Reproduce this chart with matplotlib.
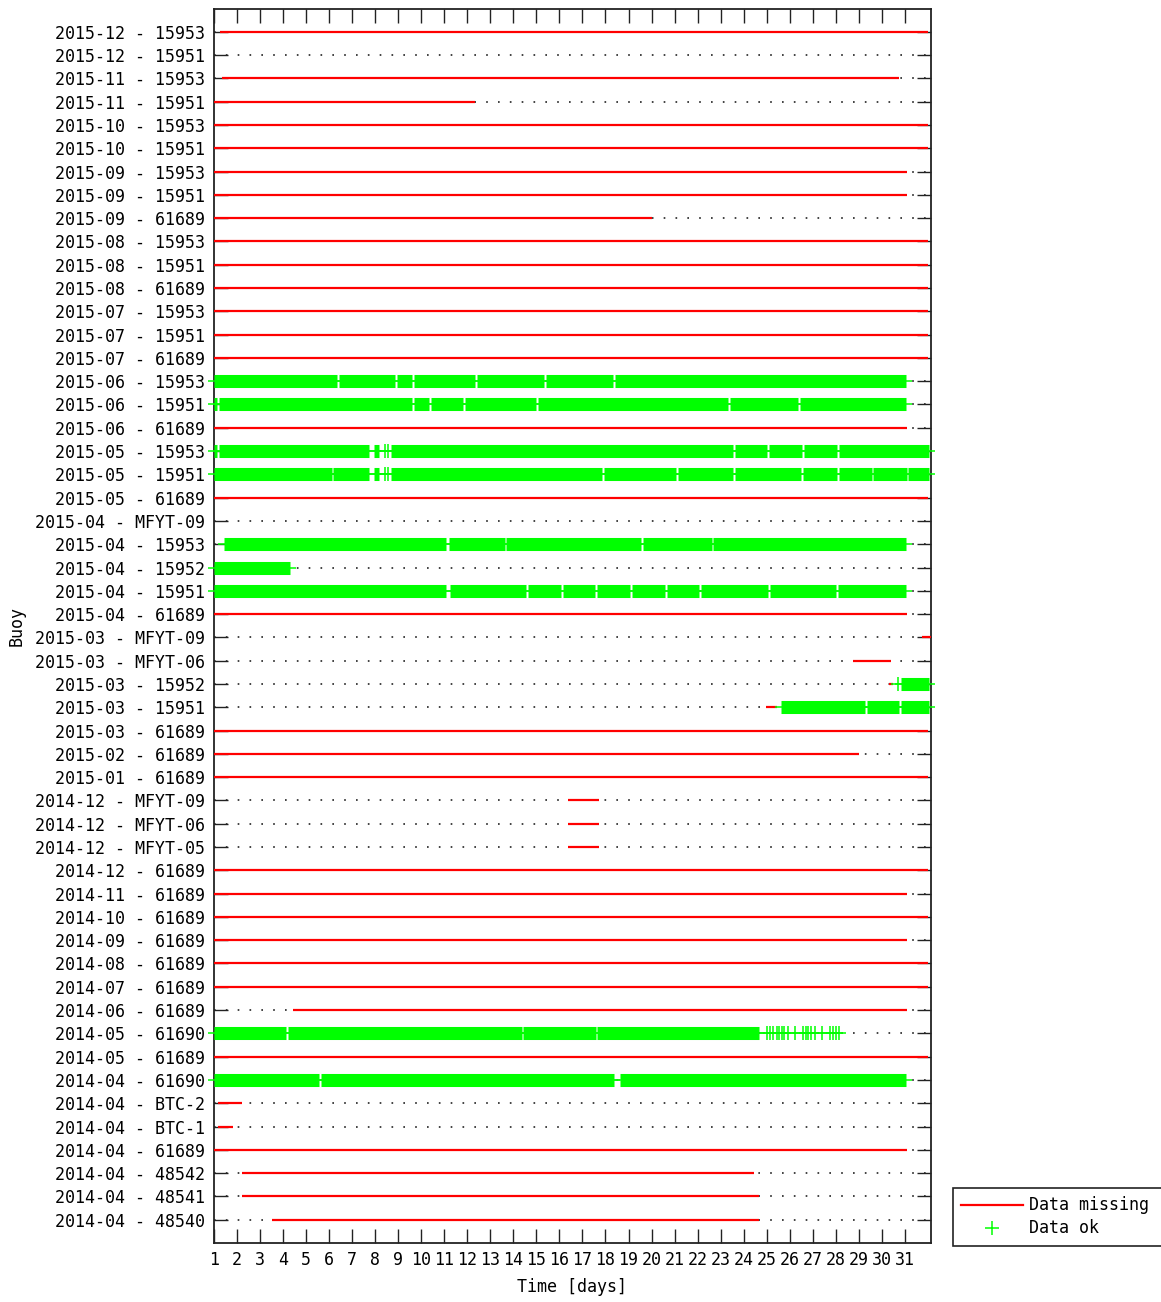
import matplotlib
matplotlib.use("Agg")
import matplotlib.pyplot as plt
from matplotlib.lines import Line2D

plt.rcParams['font.family'] = ['DejaVu Sans Mono', 'DejaVu Sans']
plt.rcParams['font.size'] = 12

# ---------------- data ----------------
buoys = [
    "2015-12 - 15953", "2015-12 - 15951", "2015-11 - 15953", "2015-11 - 15951",
    "2015-10 - 15953", "2015-10 - 15951", "2015-09 - 15953", "2015-09 - 15951",
    "2015-09 - 61689", "2015-08 - 15953", "2015-08 - 15951", "2015-08 - 61689",
    "2015-07 - 15953", "2015-07 - 15951", "2015-07 - 61689", "2015-06 - 15953",
    "2015-06 - 15951", "2015-06 - 61689", "2015-05 - 15953", "2015-05 - 15951",
    "2015-05 - 61689", "2015-04 - MFYT-09", "2015-04 - 15953", "2015-04 - 15952",
    "2015-04 - 15951", "2015-04 - 61689", "2015-03 - MFYT-09", "2015-03 - MFYT-06",
    "2015-03 - 15952", "2015-03 - 15951", "2015-03 - 61689", "2015-02 - 61689",
    "2015-01 - 61689", "2014-12 - MFYT-09", "2014-12 - MFYT-06", "2014-12 - MFYT-05",
    "2014-12 - 61689", "2014-11 - 61689", "2014-10 - 61689", "2014-09 - 61689",
    "2014-08 - 61689", "2014-07 - 61689", "2014-06 - 61689", "2014-05 - 61690",
    "2014-05 - 61689", "2014-04 - 61690", "2014-04 - BTC-2", "2014-04 - BTC-1",
    "2014-04 - 61689", "2014-04 - 48542", "2014-04 - 48541", "2014-04 - 48540",
]

# "Data missing" intervals (day of month)
missing = {
    "2015-12 - 15953": [(1.28, 32.0)],
    "2015-11 - 15953": [(1.35, 30.74)],
    "2015-11 - 15951": [(1.0, 12.34)],
    "2015-10 - 15953": [(1.0, 32.0)],
    "2015-10 - 15951": [(1.0, 32.0)],
    "2015-09 - 15953": [(1.0, 31.08)],
    "2015-09 - 15951": [(1.0, 31.08)],
    "2015-09 - 61689": [(1.0, 20.0)],
    "2015-08 - 15953": [(1.0, 32.0)],
    "2015-08 - 15951": [(1.0, 32.0)],
    "2015-08 - 61689": [(1.0, 32.0)],
    "2015-07 - 15953": [(1.0, 32.0)],
    "2015-07 - 15951": [(1.0, 32.0)],
    "2015-07 - 61689": [(1.0, 32.0)],
    "2015-06 - 61689": [(1.0, 31.08)],
    "2015-05 - 61689": [(1.0, 32.0)],
    "2015-04 - 61689": [(1.0, 31.08)],
    "2015-03 - MFYT-09": [(31.75, 32.1)],
    "2015-03 - MFYT-06": [(28.75, 30.39)],
    "2015-03 - 15952": [(30.30, 30.45)],
    "2015-03 - 15951": [(24.97, 25.45)],
    "2015-03 - 61689": [(1.0, 32.0)],
    "2015-02 - 61689": [(1.0, 29.0)],
    "2015-01 - 61689": [(1.0, 32.0)],
    "2014-12 - MFYT-09": [(16.38, 17.72)],
    "2014-12 - MFYT-06": [(16.38, 17.72)],
    "2014-12 - MFYT-05": [(16.38, 17.72)],
    "2014-12 - 61689": [(1.0, 32.0)],
    "2014-11 - 61689": [(1.0, 31.08)],
    "2014-10 - 61689": [(1.0, 32.0)],
    "2014-09 - 61689": [(1.0, 31.08)],
    "2014-08 - 61689": [(1.0, 32.0)],
    "2014-07 - 61689": [(1.0, 32.0)],
    "2014-06 - 61689": [(4.44, 31.08)],
    "2014-05 - 61689": [(1.0, 32.0)],
    "2014-04 - BTC-2": [(1.2, 2.22)],
    "2014-04 - BTC-1": [(1.2, 1.85)],
    "2014-04 - 61689": [(1.0, 31.08)],
    "2014-04 - 48542": [(2.25, 24.45)],
    "2014-04 - 48541": [(2.25, 24.67)],
    "2014-04 - 48540": [(3.52, 24.67)],
}

# "Data ok" continuous runs (day of month)
ok_runs = {
    "2015-06 - 15953": [(1.0, 6.37), (6.45, 8.87), (8.95, 9.60), (9.68, 12.34),
                        (12.42, 15.34), (15.42, 18.34), (18.42, 31.05)],
    "2015-06 - 15951": [(1.0, 1.14), (1.22, 9.60), (9.68, 10.35), (10.43, 11.84),
                        (11.92, 15.00), (15.08, 23.32), (23.40, 26.34), (26.42, 31.05)],
    "2015-05 - 15953": [(1.0, 1.14), (1.22, 7.75), (7.97, 8.19), (8.68, 23.52),
                        (23.60, 25.02), (25.10, 26.53), (26.61, 28.04), (28.12, 32.05)],
    "2015-05 - 15951": [(1.0, 6.12), (6.19, 7.74), (7.97, 8.19), (8.68, 17.84),
                        (17.92, 21.08), (21.16, 23.52), (23.60, 26.50), (26.58, 28.04),
                        (28.12, 29.54), (29.62, 31.06), (31.14, 32.05)],
    "2015-04 - 15953": [(1.45, 11.08), (11.23, 13.62), (13.70, 19.56), (19.64, 22.60),
                        (22.68, 31.05)],
    "2015-04 - 15952": [(1.0, 4.31)],
    "2015-04 - 15951": [(1.0, 11.08), (11.25, 14.56), (14.64, 16.06), (16.14, 17.55),
                        (17.63, 19.07), (19.15, 20.57), (20.65, 22.07), (22.15, 25.04),
                        (25.12, 28.02), (28.10, 31.05)],
    "2015-03 - 15952": [(30.82, 32.05)],
    "2015-03 - 15951": [(25.62, 29.25), (29.33, 30.75), (30.83, 32.05)],
    "2014-05 - 61690": [(1.0, 4.16), (4.24, 14.36), (14.44, 17.57), (17.65, 24.67)],
    "2014-04 - 61690": [(1.0, 5.59), (5.67, 18.35), (18.65, 31.05)],
}

# isolated "Data ok" samples
ok_points = {
    "2015-05 - 15953": [8.44, 8.55],
    "2015-05 - 15951": [8.44, 8.55],
    "2015-03 - 15952": [30.67],
    "2014-05 - 61690": [25.00, 25.14, 25.28, 25.43, 25.53, 25.65, 25.75, 25.93, 26.22,
                        26.58, 26.70, 26.80, 26.90, 27.09, 27.38, 27.74, 27.88, 27.99,
                        28.13],
}

days = list(range(1, 32))

# ---------------- figure ----------------
W, H = 1161, 1302
fig = plt.figure(figsize=(W / 100, H / 100), dpi=100)
fig.patch.set_facecolor('white')
L, R, T, B = 213.6, 931.0, 8.5, 1243.0
ax = fig.add_axes([L / W, 1 - B / H, (R - L) / W, (B - T) / H])

RED = '#ff0000'
GREEN = '#00ff00'
ARM = 0.26          # half-width of a "+" marker, in days
XMAX = 32.12

n = len(buoys)
ypos = {b: n - i for i, b in enumerate(buoys)}

# dotted grid
for b in buoys:
    y = ypos[b]
    ax.plot([1, XMAX], [y, y], color='#222222', lw=1.2, ls=(0, (1, 6.1)),
            dash_capstyle='butt', zorder=1)

# missing data
for b, segs in missing.items():
    y = ypos[b]
    for s, e in segs:
        ax.plot([s, e], [y, y], color=RED, lw=1.6, solid_capstyle='butt', zorder=3)

# ok data
for b, runs in ok_runs.items():
    y = ypos[b]
    for s, e in runs:
        ax.plot([s - ARM, e + ARM], [y, y], color=GREEN, lw=1.1,
                solid_capstyle='butt', zorder=4, clip_on=False)
        ax.plot([s, e], [y, y], color=GREEN, lw=9.4,
                solid_capstyle='butt', zorder=4, clip_on=False)

for b, pts in ok_points.items():
    y = ypos[b]
    ax.plot(pts, [y] * len(pts), ls='none', marker='+', ms=9.4, mew=1.1,
            color=GREEN, zorder=4, clip_on=False)

ax.set_xlim(1, XMAX)
ax.set_ylim(0, 53)
ax.set_xticks(days)
ax.set_xticklabels([str(d) for d in days])
ax.set_yticks([ypos[b] for b in buoys])
ax.set_yticklabels(buoys)

ax.tick_params(axis='both', direction='in', length=10, width=1.0, color='#222222',
               top=True, right=True, labelsize=12, labelcolor='black')
ax.tick_params(axis='x', pad=6)
ax.tick_params(axis='y', pad=6.5)
for sp in ax.spines.values():
    sp.set_linewidth(1.3)
    sp.set_color('#222222')

ax.set_ylabel('Buoy', fontsize=12)
ax.yaxis.set_label_coords((17 - L) / (R - L), 0.5)
ax.set_xlabel('Time [days]', fontsize=12)
ax.xaxis.set_label_coords(0.5, -(1287 - B) / (B - T))
ax.xaxis.label.set_va('center')
ax.yaxis.label.set_va('center')

handles = [Line2D([], [], color=RED, lw=1.6),
           Line2D([], [], ls='none', marker='+', ms=9.4, mew=1.1, color=GREEN)]
leg = fig.legend(handles, ['Data missing', 'Data ok'], loc='upper left',
                 bbox_to_anchor=(953 / W, 1 - 1248 / H, (1180 - 953) / W, 60 / H),
                 mode='expand', ncol=1, frameon=True, fancybox=False,
                 edgecolor='#222222', framealpha=1, borderpad=0.5,
                 handlelength=3.7, handletextpad=0.36, labelspacing=0.3,
                 borderaxespad=0, fontsize=12)
leg.get_frame().set_linewidth(1.2)

fig.savefig('out.png', dpi=100, facecolor='white')
